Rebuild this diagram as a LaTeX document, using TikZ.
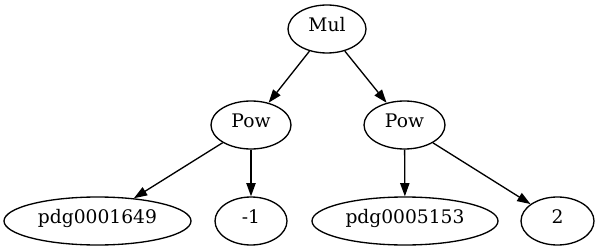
\documentclass[tikz,border=0pt]{standalone}
\usepackage{fontspec}
\setmainfont{DejaVu Serif}
\usetikzlibrary{shapes.geometric,arrows.meta}
\begin{document}
\begin{tikzpicture}[x=1pt,y=-1pt,
  nd/.style={draw,ellipse,inner sep=0pt,minimum height=48pt,font=\fontsize{18.67}{22}\selectfont,text height=0.75em,text depth=0.18em,line width=1.33pt},
  ed/.style={draw,line width=1.33pt,-{Triangle[length=13.3pt,width=9.3pt]}}]
\useasboundingbox (0,0) rectangle (599,251);
\node[nd,minimum width=78pt] (mul) at (327,29) {Mul};
\node[nd,minimum width=80pt] (powa) at (251,125) {Pow};
\node[nd,minimum width=81pt] (powb) at (404.5,125) {Pow};
\node[nd,minimum width=187pt] (pa) at (97.5,221) {pdg0001649};
\node[nd,minimum width=72pt] (m1) at (251,221) {-1};
\node[nd,minimum width=186pt] (pb) at (405,221) {pdg0005153};
\node[nd,minimum width=73pt] (two) at (557.5,221) {2};
\draw[ed] (mul) -- (powa);
\draw[ed] (mul) -- (powb);
\draw[ed] (powa) -- (pa);
\draw[ed] (powa) -- (m1);
\draw[ed] (powb) -- (pb);
\draw[ed] (powb) -- (two);
\end{tikzpicture}
\end{document}
